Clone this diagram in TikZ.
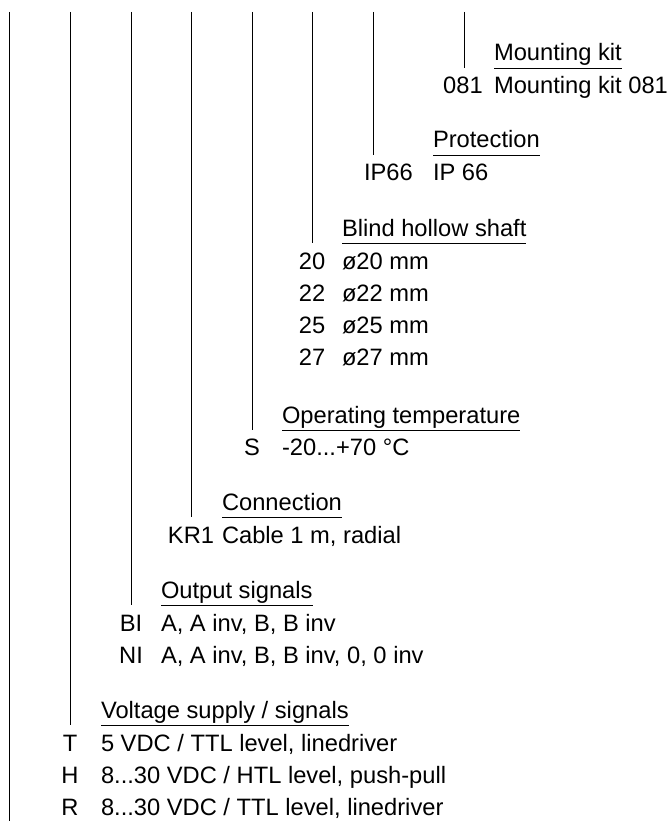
\documentclass[tikz,border=0pt]{standalone}
\usepackage{fontspec}
\setmainfont{Liberation Sans}
\begin{document}
\begin{tikzpicture}[x=1pt,y=-1pt,
  every node/.style={inner sep=0pt, outer sep=0pt, font=\fontsize{23.7}{28}\selectfont},
  headtxt/.style={anchor=base west},
  desctxt/.style={anchor=base west},
  codetxt/.style={anchor=base},
  lead/.style={line width=0.8pt, draw=black},
  uline/.style={line width=0.8pt, draw=black}]
\useasboundingbox (0,0) rectangle (669,821);

% leftmost line
\coordinate (t0) at (9,12); \coordinate (b0) at (9,821);
\draw[lead] (t0) -- (b0);

% Mounting kit
\coordinate (t7) at (464,12); \coordinate (b7) at (464,68);
\draw[lead] (t7) -- (b7);
\node[headtxt] (h7) at (494,61) {Mounting kit};
\draw[uline] ([yshift=-7pt]h7.base west) -- ([yshift=-7pt]h7.base east);
\node[codetxt] (c7a) at (463,94) {081};
\node[desctxt] (d7a) at (494,94) {Mounting kit 081};

% Protection
\coordinate (t6) at (373,12); \coordinate (b6) at (373,155);
\draw[lead] (t6) -- (b6);
\node[headtxt] (h6) at (433,148) {Protection};
\draw[uline] ([yshift=-7pt]h6.base west) -- ([yshift=-7pt]h6.base east);
\node[anchor=base west] (c6a) at (364,181) {IP66};
\node[desctxt] (d6a) at (433,181) {IP 66};

% Blind hollow shaft
\coordinate (t5) at (312,12); \coordinate (b5) at (312,243);
\draw[lead] (t5) -- (b5);
\node[headtxt] (h5) at (342,236) {Blind hollow shaft};
\draw[uline] ([yshift=-7pt]h5.base west) -- ([yshift=-7pt]h5.base east);
\node[codetxt] (c5a) at (312,269) {20};
\node[desctxt] (d5a) at (342,269) {ø20 mm};
\node[codetxt] (c5b) at (312,301) {22};
\node[desctxt] (d5b) at (342,301) {ø22 mm};
\node[codetxt] (c5c) at (312,333) {25};
\node[desctxt] (d5c) at (342,333) {ø25 mm};
\node[codetxt] (c5d) at (312,365) {27};
\node[desctxt] (d5d) at (342,365) {ø27 mm};

% Operating temperature
\coordinate (t4) at (252,12); \coordinate (b4) at (252,430);
\draw[lead] (t4) -- (b4);
\node[headtxt] (h4) at (282,423) {Operating temperature};
\draw[uline] ([yshift=-7pt]h4.base west) -- ([yshift=-7pt]h4.base east);
\node[codetxt] (c4a) at (252,455) {S};
\node[desctxt] (d4a) at (282,455) {-20...+70 °C};

% Connection
\coordinate (t3) at (191,12); \coordinate (b3) at (191,517);
\draw[lead] (t3) -- (b3);
\node[headtxt] (h3) at (222,510) {Connection};
\draw[uline] ([yshift=-7pt]h3.base west) -- ([yshift=-7pt]h3.base east);
\node[codetxt] (c3a) at (191,543) {KR1};
\node[desctxt] (d3a) at (222,543) {Cable 1 m, radial};

% Output signals
\coordinate (t2) at (131,12); \coordinate (b2) at (131,605);
\draw[lead] (t2) -- (b2);
\node[headtxt] (h2) at (161,598) {Output signals};
\draw[uline] ([yshift=-7pt]h2.base west) -- ([yshift=-7pt]h2.base east);
\node[codetxt] (c2a) at (131,631) {BI};
\node[desctxt] (d2a) at (161,631) {A, A inv, B, B inv};
\node[codetxt] (c2b) at (131,663) {NI};
\node[desctxt] (d2b) at (161,663) {A, A inv, B, B inv, 0, 0 inv};

% Voltage supply / signals
\coordinate (t1) at (70,12); \coordinate (b1) at (70,725);
\draw[lead] (t1) -- (b1);
\node[headtxt] (h1) at (101,718) {Voltage supply / signals};
\draw[uline] ([yshift=-7pt]h1.base west) -- ([yshift=-7pt]h1.base east);
\node[codetxt] (c1a) at (70,751) {T};
\node[desctxt] (d1a) at (101,751) {5 VDC / TTL level, linedriver};
\node[codetxt] (c1b) at (70,783) {H};
\node[desctxt] (d1b) at (101,783) {8...30 VDC / HTL level, push-pull};
\node[codetxt] (c1c) at (70,815) {R};
\node[desctxt] (d1c) at (101,815) {8...30 VDC / TTL level, linedriver};
\end{tikzpicture}
\end{document}
